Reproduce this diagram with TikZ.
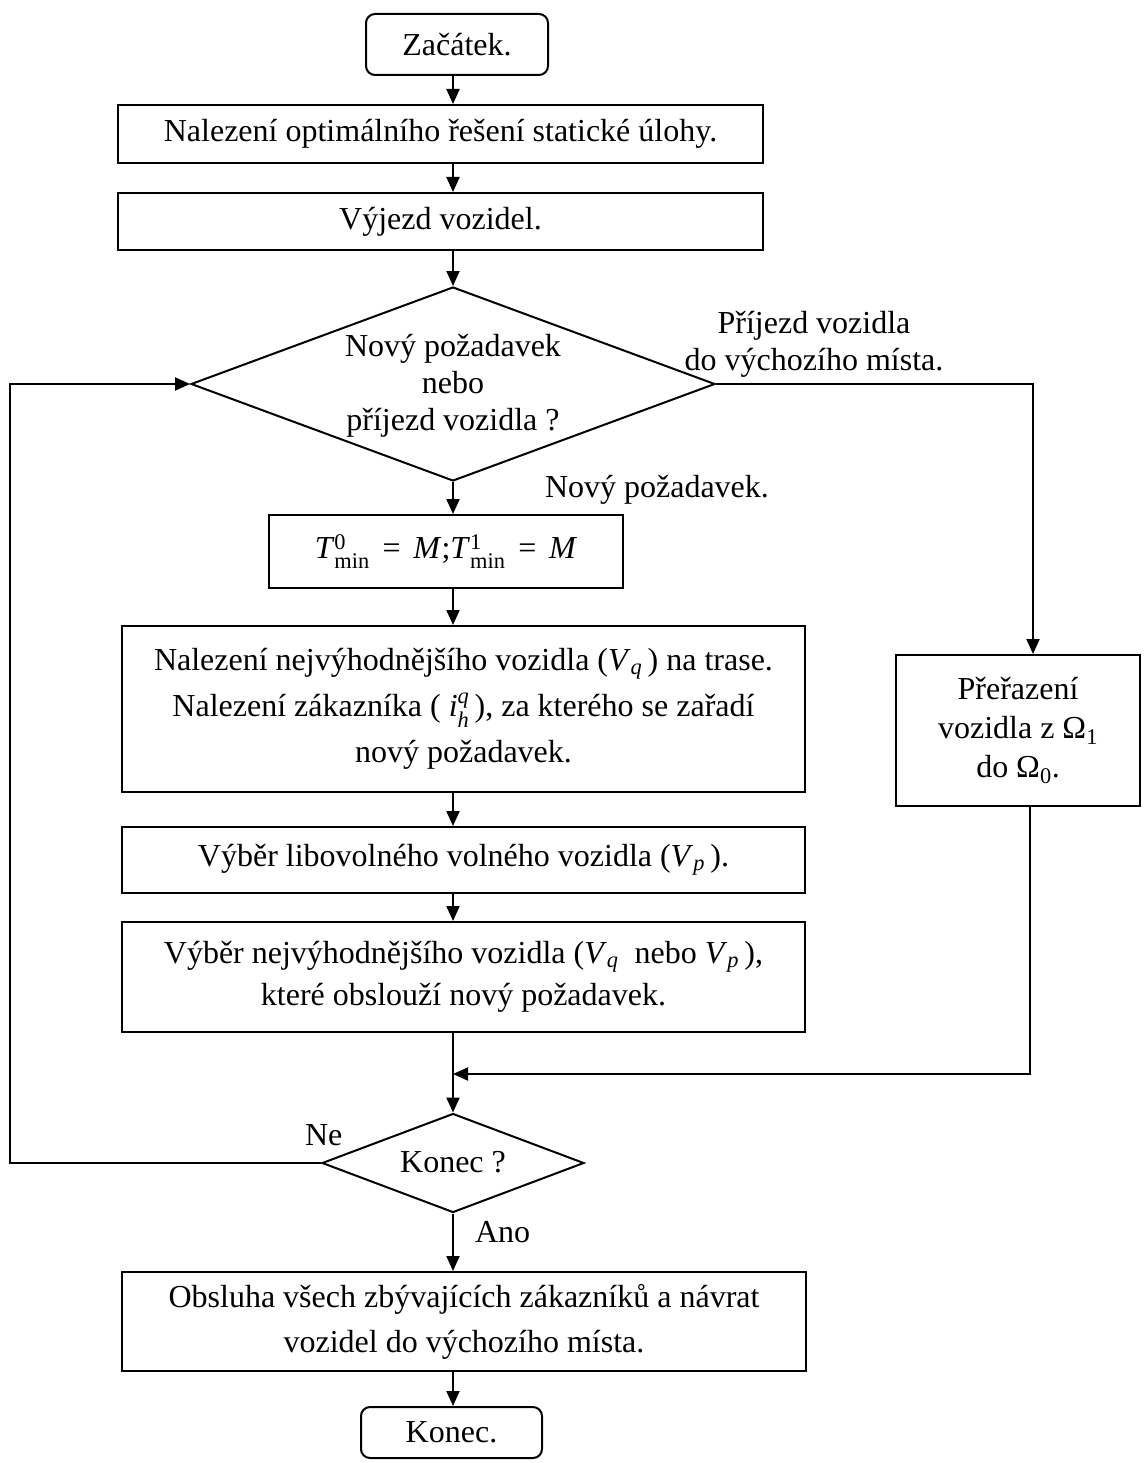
\documentclass[tikz,border=0pt]{standalone}
\usepackage{fontspec}
\usepackage{amsmath}
\setmainfont{Liberation Serif}
\usetikzlibrary{arrows.meta,shapes.geometric}
\newcommand\mysub[2]{\textit{#1}$_{\text{\itshape #2}}$}
\newcommand\mytmin[1]{\textit{T}$^{\text{#1}}_{\text{min}}$}
\begin{document}
\begin{tikzpicture}[x=1pt,y=-1pt,
  font=\fontsize{32}{37}\selectfont,
  line width=2pt,
  box/.style={draw, rectangle, inner sep=0pt, align=center},
  term/.style={draw, rectangle, rounded corners=9pt, inner sep=0pt},
  diam/.style={draw, diamond, inner sep=0pt},
  txt/.style={inner sep=0pt, align=center},
  arr/.style={-{Triangle[length=15pt,width=13pt]}}]
\useasboundingbox (0,0) rectangle (1146,1463);
\coordinate (ax) at (453,0);
\coordinate (rx) at (1033,0);
\coordinate (rx2) at (1030,0);
\coordinate (lx) at (10,0);
\coordinate (m) at (453,1074);

\node[term, minimum width=182, minimum height=61] (start) at (457,44.5) {Začátek.};
\node[box, minimum width=645, minimum height=58] (b2) at (440.5,134) {Nalezení optimálního řešení statické úlohy.};
\node[box, minimum width=645, minimum height=57] (b3) at (440.5,221.5) {Výjezd vozidel.};
\node[diam, minimum width=524, minimum height=194] (d1) at (453,384) {};
\node[txt] (d1t) at (453,386) {Nový požadavek\\ nebo\\ příjezd vozidla ?};
\node[txt] (lbr) at (814,344) {Příjezd vozidla\\ do výchozího místa.};
\node[txt, anchor=base west] (lbn) at (544,497) {Nový požadavek.};
\node[box, minimum width=354, minimum height=73] (b4) at (446,551.5) {\mytmin{0}\hspace{0.4em}=\hspace{0.4em}\textit{M};\mytmin{1}\hspace{0.4em}=\hspace{0.4em}\textit{M}};
\node[box, minimum width=683, minimum height=166, font=\fontsize{32}{46}\selectfont] (b5) at (463.5,709) {Nalezení nejvýhodnějšího vozidla (\mysub{V}{q}\,) na trase.\\ Nalezení zákazníka ( \textit{i}$^{\text{\itshape q}}_{\text{\itshape h}}$\,), za kterého se zařadí\\ nový požadavek.};
\node[box, minimum width=683, minimum height=66] (b6) at (463.5,860) {Výběr libovolného volného vozidla (\mysub{V}{p}\,).};
\node[box, minimum width=683, minimum height=110, font=\fontsize{32}{42}\selectfont] (b7) at (463.5,977) {Výběr nejvýhodnějšího vozidla (\mysub{V}{q}\ \ nebo \mysub{V}{p}\,),\\ které obslouží nový požadavek.};
\node[box, minimum width=244, minimum height=151, font=\fontsize{32}{39}\selectfont] (pr) at (1018,730.5) {Přeřazení\\ vozidla z Ω$_{\text{1}}$\\ do Ω$_{\text{0}}$.};
\node[diam, minimum width=262, minimum height=99] (d2) at (453,1163) {};
\node[txt] (d2t) at (453,1162) {Konec ?};
\node[txt, anchor=base west] (lne) at (304,1145) {Ne};
\node[txt, anchor=base west] (lano) at (474,1242) {Ano};
\node[box, minimum width=684, minimum height=99, font=\fontsize{32}{45}\selectfont] (b8) at (464,1321.5) {Obsluha všech zbývajících zákazníků a návrat\\ vozidel do výchozího místa.};
\node[term, minimum width=181, minimum height=51] (end) at (451.5,1432.5) {Konec.};

\draw[arr] (start.south -| ax) -- (b2.north -| ax);
\draw[arr] (b2.south -| ax) -- (b3.north -| ax);
\draw[arr] (b3.south -| ax) -- (d1.north);
\draw[arr] (d1.south) -- (b4.north -| ax);
\draw[arr] (b4.south -| ax) -- (b5.north -| ax);
\draw[arr] (b5.south -| ax) -- (b6.north -| ax);
\draw[arr] (b6.south -| ax) -- (b7.north -| ax);
\draw[arr] (b7.south -| ax) -- (d2.north);
\draw[arr] (d1.east) -- (d1.east -| rx) -- (pr.north -| rx);
\draw[arr] (pr.south -| rx2) -- (m -| rx2) -- (m);
\draw[arr] (d2.west) -- (d2.west -| lx) -- (d1.west -| lx) -- (d1.west);
\draw[arr] (d2.south) -- (b8.north -| ax);
\draw[arr] (b8.south -| ax) -- (end.north -| ax);
\end{tikzpicture}
\end{document}
